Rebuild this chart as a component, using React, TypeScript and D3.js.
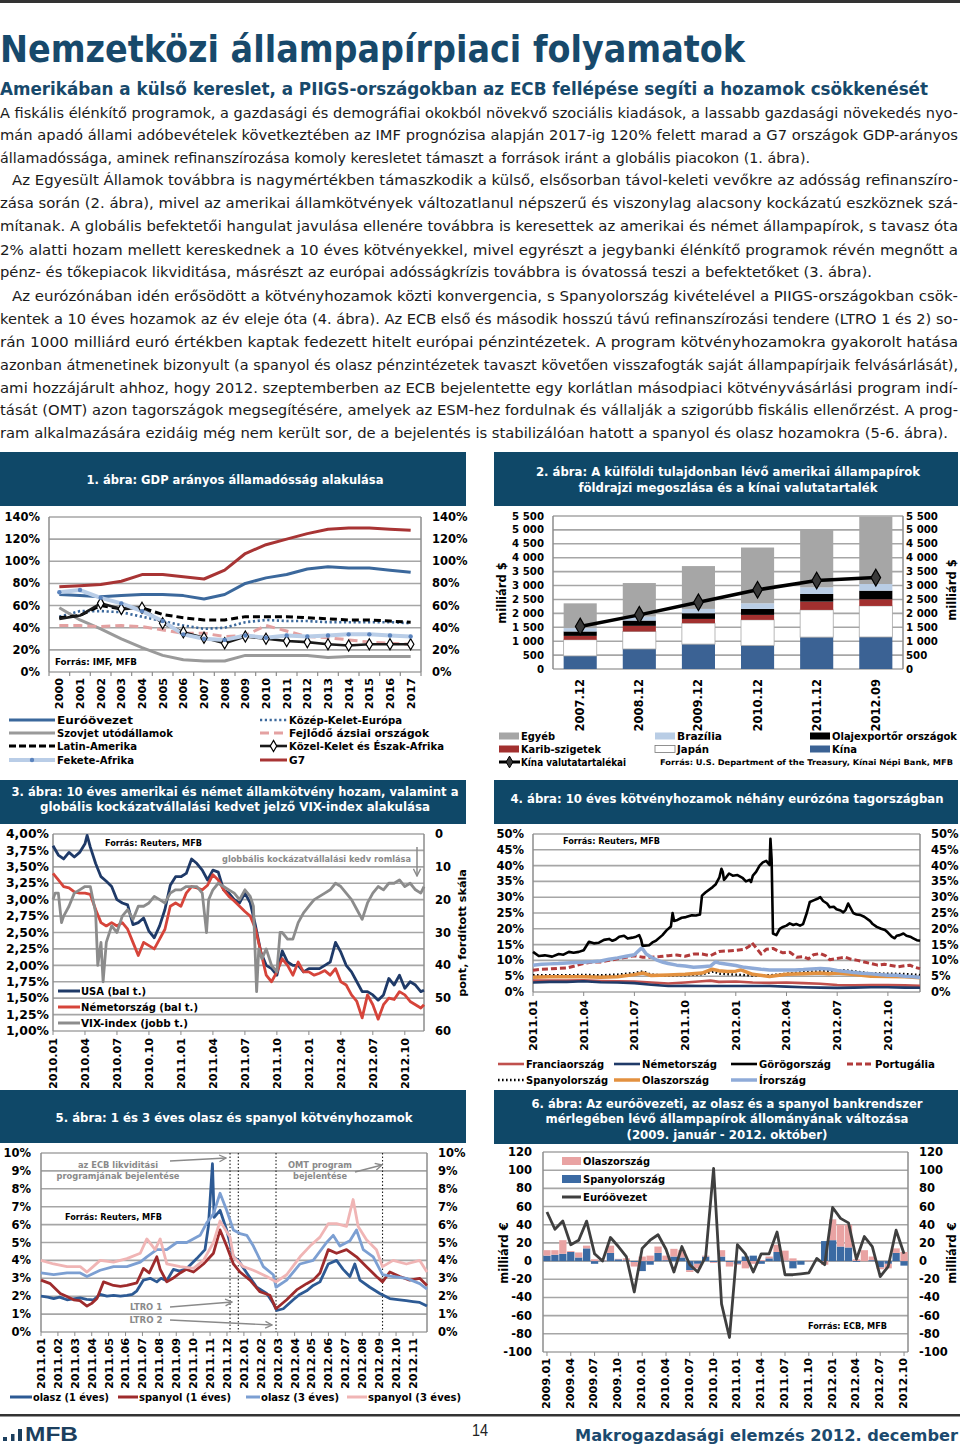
import React from 'react';
import * as d3 from 'd3';

const F = '"DejaVu Sans", Verdana, sans-serif';
const HDR = '#0f4868';
const TITLE = '#17496b';
const GRID = '#a6a6a6';
const AXIS = '#8c8c8c';

// ---------------- page text ----------------
const titleText = 'Nemzetközi állampapírpiaci folyamatok';
const subtitleText = 'Amerikában a külső kereslet, a PIIGS-országokban az ECB fellépése segíti a hozamok csökkenését';
const bodyLines = [
  'A fiskális élénkítő programok, a gazdasági és demográfiai okokból növekvő szociális kiadások, a lassabb gazdasági növekedés nyo-',
  'mán apadó állami adóbevételek következtében az IMF prognózisa alapján 2017-ig 120% felett marad a G7 országok GDP-arányos',
  'államadóssága, aminek refinanszírozása komoly keresletet támaszt a források iránt a globális piacokon (1. ábra).',
  'Az Egyesült Államok továbbra is nagymértékben támaszkodik a külső, elsősorban távol-keleti vevőkre az adósság refinanszíro-',
  'zása során (2. ábra), mivel az amerikai államkötvények változatlanul népszerű és viszonylag alacsony kockázatú eszköznek szá-',
  'mítanak. A globális befektetői hangulat javulása ellenére továbbra is keresettek az amerikai és német állampapírok, s tavasz óta',
  '2% alatti hozam mellett kereskednek a 10 éves kötvényekkel, mivel egyrészt a jegybanki élénkítő programok révén megnőtt a',
  'pénz- és tőkepiacok likviditása, másrészt az európai adósságkrízis továbbra is óvatossá teszi a befektetőket (3. ábra).',
  'Az eurózónában idén erősödött a kötvényhozamok közti konvergencia, s Spanyolország kivételével a PIIGS-országokban csök-',
  'kentek a 10 éves hozamok az év eleje óta (4. ábra). Az ECB első és második hosszú távú refinanszírozási tendere (LTRO 1 és 2) so-',
  'rán 1000 milliárd euró értékben kaptak fedezett hitelt európai pénzintézetek. A program kötvényhozamokra gyakorolt hatása',
  'azonban átmenetinek bizonyult (a spanyol és olasz pénzintézetek tavaszt követően visszafogták saját állampapírjaik felvásárlását),',
  'ami hozzájárult ahhoz, hogy 2012. szeptemberben az ECB bejelentette egy korlátlan másodpiaci kötvényvásárlási program indí-',
  'tását (OMT) azon tagországok megsegítésére, amelyek az ESM-hez fordulnak és vállalják a szigorúbb fiskális ellenőrzést. A prog-',
  'ram alkalmazására ezidáig még nem került sor, de a bejelentés is stabilizálóan hatott a spanyol és olasz hozamokra (5-6. ábra).',
];
const bodyBaselines = [118, 140, 163, 185, 208, 231, 255, 277, 301, 324, 347, 370, 393, 415, 438];
const bodyX = [0, 0, 0, 12, 0, 0, 0, 0, 12, 0, 0, 0, 0, 0, 0];
const bodyEnd = [958, 958, 810, 958, 958, 958, 958, 872, 958, 958, 958, 958, 958, 958, 948];

// ---------------- chart 1 data ----------------
const years1 = ['2000','2001','2002','2003','2004','2005','2006','2007','2008','2009','2010','2011','2012','2013','2014','2015','2016','2017'];
const euro1 = [70,69,68,69,70,70,69,66,70,80,85,88,93,95,94,94,92,90];
const cee1 = [50,55,55,54,50,46,42,39,40,45,47,46,46,45,45,45,45,44];
const cis1 = [58,47,39,30,22,15,11,10,10,15,15,15,15,13,14,14,14,14];
const asia1 = [42,42,41,42,41,38,35,35,32,33,42,37,32,31,29,27,26,25];
const latam1 = [49,51,60,57,58,52,49,47,47,50,50,50,49,48,47,47,46,45];
const mena1 = [48,51,62,57,58,44,36,31,26,32,30,28,27,25,24,25,25,25];
const ssa1 = [72,74,67,62,55,46,34,30,29,33,31,33,32,33,34,34,33,32];
const g71 = [77,78,79,82,88,88,86,84,92,107,115,120,125,129,130,130,129,128];

// ---------------- chart 2 data ----------------
const periods2 = ['2007.12','2008.12','2009.12','2010.12','2011.12','2012.09'];
const china2 = [470, 720, 895, 850, 1146, 1150];
const japan2 = [580, 628, 752, 916, 978, 1117];
const carib2 = [140, 203, 153, 179, 298, 239];
const oil2 = [160, 191, 205, 215, 275, 310];
const brazil2 = [120, 143, 155, 203, 238, 239];
const other2 = [890, 1205, 1540, 2004, 2089, 2425];
const reserves2 = [1528, 1946, 2399, 2847, 3181, 3285];

// ---------------- chart 3 data (months since 2010.01) ----------------
const ticks3 = ['2010.01','2010.04','2010.07','2010.10','2011.01','2011.04','2011.07','2011.10','2012.01','2012.04','2012.07','2012.10'];
const usa3 = [[0,3.82],[0.5,3.68],[1,3.62],[1.5,3.72],[2,3.65],[2.5,3.72],[3,3.85],[3.2,3.98],[3.5,3.8],[4,3.55],[4.5,3.35],[5,3.28],[5.5,3.2],[6,3.0],[6.5,2.95],[7,2.92],[7.5,2.62],[8,2.65],[8.5,2.72],[9,2.52],[9.5,2.42],[10,2.6],[10.5,2.85],[11,3.22],[11.5,3.35],[12,3.35],[12.5,3.4],[13,3.62],[13.5,3.55],[14,3.45],[14.5,3.3],[15,3.45],[15.5,3.42],[16,3.15],[16.5,3.1],[17,3.0],[17.5,2.95],[18,3.1],[18.5,2.95],[19,2.6],[19.5,2.2],[20,2.0],[20.5,1.95],[21,1.85],[21.5,2.22],[22,2.05],[22.5,2.0],[23,2.0],[23.5,1.9],[24,1.95],[24.5,1.95],[25,1.95],[25.5,2.0],[26,2.05],[26.5,2.35],[27,2.2],[27.5,2.0],[28,1.9],[28.5,1.75],[29,1.6],[29.5,1.6],[30,1.55],[30.5,1.47],[31,1.55],[31.5,1.8],[32,1.7],[32.5,1.85],[33,1.65],[33.5,1.75],[34,1.7],[34.5,1.6],[34.8,1.62]];
const de3 = [[0,3.4],[0.5,3.3],[1,3.2],[1.5,3.18],[2,3.12],[2.5,3.1],[3,3.1],[3.5,3.08],[4,2.85],[4.5,2.65],[5,2.6],[5.5,2.65],[6,2.6],[6.5,2.65],[7,2.55],[7.5,2.35],[8,2.15],[8.5,2.35],[9,2.3],[9.5,2.25],[10,2.4],[10.5,2.55],[11,2.9],[11.5,2.95],[12,2.9],[12.5,3.1],[13,3.2],[13.5,3.18],[14,3.15],[14.5,3.22],[15,3.38],[15.5,3.3],[16,3.15],[16.5,3.05],[17,2.98],[17.5,2.9],[18,2.82],[18.5,2.75],[19,2.55],[19.5,2.2],[20,1.85],[20.5,1.75],[21,1.9],[21.5,2.1],[22,2.0],[22.5,1.85],[23,2.05],[23.5,1.9],[24,1.9],[24.5,1.85],[25,1.88],[25.5,1.92],[26,1.85],[26.5,1.95],[27,1.75],[27.5,1.7],[28,1.55],[28.5,1.45],[29,1.2],[29.5,1.55],[30,1.4],[30.5,1.18],[31,1.4],[31.5,1.5],[32,1.48],[32.5,1.6],[33,1.55],[33.5,1.45],[34,1.4],[34.5,1.35],[34.8,1.4]];
const vix3 = [[0,20],[0.2,18],[0.5,18],[0.8,27],[1,25],[1.5,22],[2,18],[2.5,17],[3,16],[3.5,16],[4,24],[4.2,40],[4.5,33],[4.7,45],[5,33],[5.5,28],[6,30],[6.5,25],[7,23],[7.5,26],[8,22],[8.5,22],[9,21],[9.5,19],[10,20],[10.5,21],[11,18],[11.5,17],[12,17],[12.5,16],[13,16],[13.5,16],[14,18],[14.4,30],[14.6,20],[15,17],[15.5,15],[16,16],[16.5,17],[17,18],[17.5,20],[18,17],[18.5,19],[18.8,22],[19.1,48],[19.3,35],[19.6,38],[20,35],[20.5,40],[21,42],[21.3,30],[21.5,30],[22,32],[22.5,32],[23,27],[23.5,24],[24,22],[24.5,20],[25,19],[25.5,18],[26,17],[26.5,15],[27,16],[27.5,18],[28,20],[28.5,23],[29,26],[29.5,21],[30,18],[30.5,16],[31,17],[31.5,15],[32,15],[32.5,14],[33,16],[33.5,15],[34,17],[34.5,18],[34.8,16]];

// ---------------- chart 4 data (months since 2011.01) ----------------
const ticks4 = ['2011.01','2011.04','2011.07','2011.10','2012.01','2012.04','2012.07','2012.10'];
const fr4 = [[0,3.6],[1,3.6],[2,3.6],[3,3.7],[4,3.5],[5,3.4],[6,3.3],[7,3.0],[8,2.7],[9,3.0],[10,3.4],[10.5,3.6],[11,3.2],[12,3.3],[13,3.0],[14,2.9],[15,3.0],[16,2.8],[17,2.6],[18,2.2],[19,2.1],[20,2.2],[21,2.2],[22,2.1],[22.9,2.0]];
const de4 = [[0,3.0],[1,3.2],[2,3.2],[3,3.4],[4,3.1],[5,3.0],[6,2.8],[7,2.3],[8,1.9],[9,2.0],[10,1.9],[11,1.9],[12,1.9],[13,1.9],[14,1.9],[15,1.7],[16,1.5],[17,1.4],[18,1.3],[19,1.4],[20,1.5],[21,1.5],[22,1.4],[22.9,1.35]];
const gr4 = [[0,12.7],[0.34,11.4],[0.7,11.6],[1.13,11.2],[1.52,12.0],[1.8,11.8],[2.12,12.7],[2.4,12.4],[2.71,12.7],[3.0,13.2],[3.31,15.9],[3.6,15.4],[3.9,15.6],[4.2,16.5],[4.5,16.8],[4.7,16.2],[4.89,16.6],[5.1,17.5],[5.39,17.8],[5.6,16.9],[5.88,17.2],[6.1,17.5],[6.28,18.0],[6.4,16.5],[6.48,14.6],[6.87,14.8],[7.1,15.8],[7.27,16.2],[7.66,18.0],[7.9,19.5],[8.16,20.7],[8.26,25.0],[8.35,22.5],[8.55,22.8],[8.8,23.5],[9.05,23.7],[9.4,24.3],[9.64,24.2],[9.88,24.5],[10.0,30.5],[10.2,31.5],[10.63,33.2],[10.8,34.0],[11.03,36.3],[11.15,39.0],[11.23,38.0],[11.3,35.5],[11.43,36.3],[11.6,37.5],[11.82,36.8],[12.1,37.0],[12.42,36.0],[12.6,35.0],[12.81,35.5],[12.9,34.8],[13.01,36.8],[13.2,38.0],[13.41,40.0],[13.6,41.0],[13.8,41.5],[14.0,40.2],[14.05,48.5],[14.12,42.0],[14.2,18.5],[14.4,18.0],[14.6,20.0],[14.79,20.6],[15.0,21.0],[15.19,21.7],[15.4,21.2],[15.58,21.5],[15.8,21.0],[15.98,21.5],[16.2,25.0],[16.38,28.5],[16.6,29.0],[16.87,29.6],[17.0,30.0],[17.17,28.8],[17.4,28.0],[17.56,26.8],[17.8,27.0],[17.96,26.2],[18.2,25.8],[18.36,25.2],[18.5,26.0],[18.65,28.0],[18.8,26.5],[18.95,25.0],[19.15,24.5],[19.35,24.4],[19.6,23.8],[19.94,22.5],[20.1,21.5],[20.34,20.6],[20.6,20.0],[20.83,19.6],[21.0,18.8],[21.23,17.5],[21.4,17.0],[21.52,17.8],[21.7,18.0],[21.92,18.5],[22.1,17.8],[22.32,17.5],[22.5,17.0],[22.71,16.4],[22.9,16.2]];
const pt4 = [[0,6.9],[0.5,7.2],[1.0,7.3],[1.5,7.5],[2.0,7.6],[2.5,8.3],[3.0,9.0],[3.5,9.5],[4.0,9.5],[4.5,10.0],[5.0,10.5],[5.5,11.0],[6.0,11.5],[6.5,11.0],[7.0,11.0],[7.5,11.2],[8.0,11.5],[8.5,11.7],[9.0,11.3],[9.5,12.0],[10.0,12.0],[10.5,11.5],[11.0,12.8],[11.5,13.0],[12.0,13.2],[12.5,13.5],[12.8,14.5],[12.95,15.6],[13.2,14.0],[13.5,12.0],[13.8,13.5],[14.2,13.8],[14.5,13.0],[14.79,12.4],[15.2,12.6],[15.6,11.0],[15.98,11.2],[16.3,10.5],[16.6,11.8],[17.0,12.2],[17.3,11.5],[17.56,10.2],[17.9,10.5],[18.2,10.8],[18.5,11.0],[18.8,10.4],[19.2,10.0],[19.6,9.5],[20.0,9.0],[20.4,8.5],[20.8,8.8],[21.2,8.4],[21.6,8.0],[22.0,8.3],[22.3,8.5],[22.6,7.8],[22.9,7.4]];
const es4 = [[0,5.3],[1,5.3],[2,5.3],[3,5.4],[4,5.3],[5,5.5],[6,6.0],[6.5,6.5],[7,5.5],[8,5.2],[9,5.3],[10,5.6],[10.7,6.5],[11,5.8],[12,5.5],[13,5.2],[14,5.3],[15,5.8],[16,6.3],[17,6.6],[18,6.8],[18.5,6.9],[19,6.5],[20,5.9],[21,5.8],[22,5.7],[22.9,5.4]];
const it4 = [[0,4.7],[1,4.8],[2,4.8],[3,4.8],[4,4.7],[5,4.8],[6,5.5],[6.5,6.0],[7,5.2],[8,5.4],[9,5.6],[10,6.0],[10.6,7.2],[11,6.7],[11.5,6.5],[12,6.6],[12.3,7.0],[13,5.6],[14,4.9],[15,5.6],[16,5.8],[17,6.0],[17.5,5.8],[18,6.0],[19,5.5],[20,5.0],[21,4.9],[22,4.8],[22.9,4.5]];
const ie4 = [[0,8.5],[0.5,8.8],[1.0,8.9],[1.5,9.0],[2.0,9.2],[2.5,9.3],[3.0,9.4],[3.5,9.6],[4.0,9.8],[4.5,10.4],[5.0,10.8],[5.5,11.3],[6.0,11.8],[6.2,12.8],[6.4,13.8],[6.5,13.5],[6.7,12.0],[7.0,11.0],[7.3,10.2],[7.7,9.4],[8.0,9.0],[8.5,8.5],[9.0,8.2],[9.5,7.8],[10.0,8.0],[10.5,8.2],[10.8,9.5],[11.0,9.2],[11.5,8.8],[12.0,8.4],[12.5,7.8],[13.0,7.5],[13.5,7.2],[14.0,7.0],[14.5,7.0],[15.0,7.0],[15.5,7.0],[16.0,7.1],[16.5,7.3],[17.0,7.4],[17.5,7.3],[18.0,6.8],[18.5,6.5],[19.0,6.2],[19.5,5.9],[20.0,5.8],[20.5,5.5],[21.0,5.3],[21.5,5.3],[22.0,5.0],[22.5,4.8],[22.9,4.6]];

// ---------------- chart 5 data (months since 2011.01) ----------------
const ticks5 = ['2011.01','2011.02','2011.03','2011.04','2011.05','2011.06','2011.07','2011.08','2011.09','2011.10','2011.11','2011.12','2012.01','2012.02','2012.03','2012.04','2012.05','2012.06','2012.07','2012.08','2012.09','2012.10','2012.11'];
const eventLines5 = [11.18, 11.67, 13.9, 20.2];
const it1y5 = [[0,2.0],[0.4,1.95],[0.75,1.87],[1.1,1.95],[1.54,1.8],[1.9,1.85],[2.32,1.9],[2.7,1.82],[3.11,1.8],[3.5,2.1],[3.9,2.0],[4.29,2.05],[4.7,2.0],[5.08,2.05],[5.4,2.1],[5.67,2.3],[6.06,2.9],[6.46,3.0],[6.85,2.8],[7.1,3.0],[7.44,2.86],[7.83,3.5],[8.2,3.4],[8.62,3.55],[9.21,4.1],[9.7,4.6],[9.9,5.9],[10.14,9.4],[10.24,6.4],[10.59,6.8],[10.98,5.7],[11.38,4.2],[11.67,4.0],[12.17,3.3],[12.76,2.5],[13.35,2.15],[13.74,1.6],[13.94,1.2],[14.33,1.3],[14.92,1.8],[15.3,2.1],[15.71,2.3],[16.1,2.6],[16.5,2.8],[16.99,3.8],[17.48,4.0],[17.87,3.5],[18.27,3.1],[18.56,3.8],[18.86,2.9],[19.45,2.5],[20.04,2.15],[20.63,1.87],[21.22,1.8],[21.6,1.75],[22.0,1.7],[22.4,1.65],[22.83,1.45]];
const es1y5 = [[0,2.9],[0.55,2.7],[1.14,2.15],[1.5,2.0],[1.93,1.8],[2.3,1.75],[2.72,1.45],[3.0,1.6],[3.31,1.87],[3.7,2.8],[4.29,2.6],[4.7,2.55],[5.08,2.6],[5.67,2.75],[6.06,3.55],[6.4,3.3],[6.85,4.2],[7.05,3.5],[7.44,2.8],[7.8,3.0],[8.23,3.3],[8.6,3.5],[9.02,3.35],[9.61,3.8],[10.2,4.4],[10.59,5.7],[10.98,4.8],[11.38,3.8],[11.77,3.35],[12.36,2.9],[12.95,2.25],[13.54,2.05],[13.9,1.3],[14.53,1.8],[15.12,2.35],[15.71,2.7],[16.1,2.9],[16.5,3.3],[16.99,4.6],[17.48,4.4],[18.07,4.6],[18.66,4.2],[19.25,3.65],[19.84,3.1],[20.2,2.8],[20.63,3.35],[21.22,3.1],[21.81,2.9],[22.4,3.0],[22.83,2.6]];
const it3y5 = [[0,3.3],[0.75,3.2],[1.54,3.3],[2.32,3.3],[2.72,3.1],[3.5,3.45],[4.29,3.65],[5.08,3.65],[5.87,3.9],[6.26,4.2],[6.85,4.6],[7.44,4.6],[8.03,5.0],[8.62,5.0],[9.41,5.4],[9.8,6.1],[10.2,6.6],[10.59,7.75],[10.98,6.8],[11.38,5.7],[11.77,5.5],[12.17,5.4],[12.56,4.8],[13.15,3.65],[13.74,3.2],[13.9,2.5],[14.53,2.9],[15.32,3.8],[16.1,4.0],[16.89,5.0],[17.28,5.4],[17.68,4.8],[18.27,5.1],[18.66,5.7],[19.06,4.6],[19.65,4.2],[20.2,3.2],[20.83,3.1],[21.61,3.0],[22.4,2.7],[22.83,2.4]];
const es3y5 = [[0,4.0],[0.75,3.8],[1.54,3.65],[2.32,3.65],[2.72,3.35],[3.5,4.0],[4.29,3.9],[5.08,4.1],[5.87,4.4],[6.26,5.2],[6.75,4.6],[7.05,5.2],[7.44,3.8],[8.23,3.65],[9.02,3.55],[9.61,4.0],[10.2,5.0],[10.59,6.2],[11.18,5.3],[11.38,4.2],[11.97,3.65],[12.56,3.45],[13.35,3.1],[13.9,2.8],[14.53,3.2],[15.32,4.2],[15.91,4.8],[16.5,5.3],[16.99,6.05],[17.48,6.05],[18.07,5.9],[18.46,7.4],[18.76,5.9],[19.25,5.15],[19.84,4.6],[20.2,3.65],[20.83,4.0],[21.61,3.8],[22.4,4.0],[22.83,3.35]];

// ---------------- chart 6 data ----------------
const months6 = ['2009.01','2009.02','2009.03','2009.04','2009.05','2009.06','2009.07','2009.08','2009.09','2009.10','2009.11','2009.12','2010.01','2010.02','2010.03','2010.04','2010.05','2010.06','2010.07','2010.08','2010.09','2010.10','2010.11','2010.12','2011.01','2011.02','2011.03','2011.04','2011.05','2011.06','2011.07','2011.08','2011.09','2011.10','2011.11','2011.12','2012.01','2012.02','2012.03','2012.04','2012.05','2012.06','2012.07','2012.08','2012.09','2012.10'];
const spain6 = [6,7,8,10,4,14,-3,0.5,9,2,1,-1,-11,-4,9,1,5,4,-10,-3,5,-1,5,-1,-3,5,6,-3,3,10,0.5,-8,-4,0,0,22,23,16,15,-1,0,1,-7,-3,9,-5];
const italy6 = [6,5,15,1,5.5,3,2,0.5,8,0.5,2,-5,5,6,7,5,8.5,8,-2,-5,1,-1,7,-5,-1,-8,-3,1,2,8,11,3,0,0.5,0,-4,23,24,25,2,12,4,-2,-5,5,10];
const euro6 = [54,35,44,18,23,44,8,0,26,16,5,-34,14,23,29,13,-12,16,-4,-12,5,102,-47,-84,18,8,-12,8,8,32,-15,-15,-14,-13,3,-4,59,47,42,2,27,16,-17,-6,34,8];

// ---------------- helpers ----------------
const loc = d3.formatLocale({ decimal: ',', thousands: '\u00a0', grouping: [3], currency: ['', ''] });
const fmtK = loc.format(',d');
const fmt2 = loc.format('.2f');

function Txt(p: any) {
  const { x, y, children, size = 11.5, anchor = 'start', fill = '#000', w, bold = true, rot, dy = '0.35em' } = p;
  const extra: any = {};
  if (w) { extra.textLength = w; extra.lengthAdjust = 'spacingAndGlyphs'; }
  if (rot) {
    return <text transform={`translate(${x},${y}) rotate(${rot})`} textAnchor={anchor} dy={dy} fontSize={size} fontFamily={F} fontWeight={bold ? 'bold' : 'normal'} fill={fill} {...extra}>{children}</text>;
  }
  return <text x={x} y={y} dy={dy} textAnchor={anchor} fontSize={size} fontFamily={F} fontWeight={bold ? 'bold' : 'normal'} fill={fill} {...extra}>{children}</text>;
}

function Header(p: any) {
  const { x, y, w, h, lines } = p;
  return (
    <g>
      <rect x={x} y={y} width={w} height={h} fill={HDR} />
      {lines.map((l: any, i: number) => (
        <Txt key={i} x={l.cx} y={l.cy} anchor="middle" fill="#fff" size={12} w={l.w}>{l.t}</Txt>
      ))}
    </g>
  );
}

function Frame(p: any) {
  const { x0, x1, yTop, yBot, ys, ticks } = p;
  return (
    <g>
      {ticks.map((t: number, i: number) => (
        <line key={i} x1={x0} x2={x1} y1={ys(t)} y2={ys(t)} stroke={GRID} strokeWidth={1.6} />
      ))}
      <line x1={x0} x2={x0} y1={yTop} y2={yBot} stroke={AXIS} strokeWidth={1.5} />
      <line x1={x1} x2={x1} y1={yTop} y2={yBot} stroke={AXIS} strokeWidth={1.5} />
    </g>
  );
}

const diamond = d3.symbol().type(d3.symbolDiamond);

// ---------------- chart 1 ----------------
function Chart1() {
  const x0 = 49, x1 = 421, yTop = 517, yBot = 672;
  const x = d3.scalePoint<string>().domain(years1).range([x0, x1]).padding(0.5);
  const y = d3.scaleLinear().domain([0, 140]).range([yBot, yTop]);
  const ticks = d3.range(0, 141, 20);
  const ln = d3.line<number>().x((_, i) => x(years1[i]) as number).y(d => y(d));
  const step = x.step();
  const series = [
    { d: euro1, c: '#3b689c', w: 3 },
    { d: cee1, c: '#3b689c', w: 2.6, dash: '2.2,2.6' },
    { d: cis1, c: '#9a9a9a', w: 3 },
    { d: asia1, c: '#e4a1a1', w: 3, dash: '9,5' },
    { d: latam1, c: '#000', w: 3, dash: '7,4' },
    { d: mena1, c: '#1a1a1a', w: 2.6 },
    { d: ssa1, c: '#b9cde7', w: 4 },
    { d: g71, c: '#a83434', w: 3 },
  ];
  const legL = [
    { t: 'Euróövezet', c: '#3b689c', w: 3, tw: 76 },
    { t: 'Szovjet utódállamok', c: '#9a9a9a', w: 3, tw: 116 },
    { t: 'Latin-Amerika', c: '#000', w: 3, dash: '7,3', tw: 80 },
    { t: 'Fekete-Afrika', c: '#b9cde7', w: 4, dot: true, tw: 77 },
  ];
  const legR = [
    { t: 'Közép-Kelet-Európa', c: '#3b689c', w: 2.6, dash: '2.2,2.6', tw: 113 },
    { t: 'Fejlődő ázsiai országok', c: '#e4a1a1', w: 3, dash: '9,5', tw: 140 },
    { t: 'Közel-Kelet és Észak-Afrika', c: '#1a1a1a', w: 2.6, diam: true, tw: 155 },
    { t: 'G7', c: '#a83434', w: 3, tw: 16 },
  ];
  const rows = [720, 733, 746, 760];
  const legItem = (it: any, lx0: number, lx1: number, ty: number, k: string) => (
    <g key={k}>
      <line x1={lx0} x2={lx1} y1={ty} y2={ty} stroke={it.c} strokeWidth={it.w} strokeDasharray={it.dash} />
      {it.dot && <circle cx={(lx0 + lx1) / 2} cy={ty} r={2.2} fill="#5b84be" />}
      {it.diam && <path d={diamond.size(36)() as string} transform={`translate(${(lx0 + lx1) / 2},${ty})`} fill="#fff" stroke="#000" strokeWidth={1.2} />}
      <Txt x={lx1 + 2} y={ty} size={10.8} w={it.tw}>{it.t}</Txt>
    </g>
  );
  return (
    <g>
      <Header x={0} y={452} w={466} h={54} lines={[{ t: '1. ábra: GDP arányos államadósság alakulása', cx: 235, cy: 480, w: 297 }]} />
      <Frame x0={x0} x1={x1} yTop={yTop} yBot={yBot} ys={y} ticks={ticks} />
      {d3.range(years1.length + 1).map(i => (
        <line key={i} x1={x0 + i * step} x2={x0 + i * step} y1={yBot} y2={yBot + 4} stroke={AXIS} strokeWidth={1.2} />
      ))}
      {ticks.map(t => (
        <g key={t}>
          <Txt x={40} y={y(t)} anchor="end">{t + '%'}</Txt>
          <Txt x={432} y={y(t)}>{t + '%'}</Txt>
        </g>
      ))}
      {series.map((s, i) => (
        <path key={i} d={ln(s.d) as string} fill="none" stroke={s.c} strokeWidth={s.w} strokeDasharray={s.dash} strokeLinejoin="round" />
      ))}
      {mena1.map((v, i) => i >= 2 && (
        <path key={i} d={diamond.size(36)() as string} transform={`translate(${x(years1[i])},${y(v)})`} fill="#fff" stroke="#000" strokeWidth={1.2} />
      ))}
      {ssa1.map((v, i) => (
        <circle key={i} cx={x(years1[i])} cy={y(v)} r={2.2} fill="#5b84be" />
      ))}
      {years1.map(yr => (
        <Txt key={yr} x={x(yr)} y={678} rot={-90} anchor="end" size={11.2}>{yr}</Txt>
      ))}
      <Txt x={55} y={662} size={9} w={82}>Forrás: IMF, MFB</Txt>
      {legL.map((it, i) => legItem(it, 9, 55, rows[i], 'l' + i))}
      {legR.map((it, i) => legItem(it, 260, 287, rows[i], 'r' + i))}
    </g>
  );
}

// ---------------- chart 2 ----------------
function Chart2() {
  const x0 = 553, x1 = 903, yTop = 516, yBot = 669;
  const x = d3.scaleBand<string>().domain(periods2).range([x0, x1]).paddingInner(0.44).paddingOuter(0.18);
  const y = d3.scaleLinear().domain([0, 5500]).range([yBot, yTop]);
  const ticks = d3.range(0, 5501, 500);
  const rows = periods2.map((p, i) => ({ p, china: china2[i], japan: japan2[i], carib: carib2[i], oil: oil2[i], brazil: brazil2[i], other: other2[i] }));
  const keys = ['china', 'japan', 'carib', 'oil', 'brazil', 'other'];
  const colors: any = { china: '#3b6294', japan: '#ffffff', carib: '#a2302f', oil: '#000000', brazil: '#b9cde5', other: '#a6a6a6' };
  const stack = d3.stack<any>().keys(keys)(rows);
  const cx = (p: string) => (x(p) as number) + x.bandwidth() / 2;
  const ln = d3.line<number>().x((_, i) => cx(periods2[i])).y(d => y(d));
  const sw = (sx: number, sy: number, c: string, t: string, tw: number, k: string, stroke?: string) => (
    <g key={k}>
      <rect x={sx} y={sy - 3.5} width={20} height={7} fill={c} stroke={stroke} strokeWidth={stroke ? 0.8 : 0} />
      <Txt x={sx + 22} y={sy} size={10.2} w={tw}>{t}</Txt>
    </g>
  );
  return (
    <g>
      <Header x={494} y={452} w={464} h={54} lines={[
        { t: '2. ábra: A külföldi tulajdonban lévő amerikai állampapírok', cx: 728, cy: 472, w: 384 },
        { t: 'földrajzi megoszlása és a kínai valutatartalék', cx: 728, cy: 488, w: 299 },
      ]} />
      <Frame x0={x0} x1={x1} yTop={yTop} yBot={yBot} ys={y} ticks={ticks} />
      {ticks.map(t => (
        <g key={t}>
          <Txt x={544} y={y(t)} anchor="end" size={10.2}>{fmtK(t)}</Txt>
          <Txt x={906} y={y(t)} size={10.2}>{fmtK(t)}</Txt>
        </g>
      ))}
      <Txt x={502} y={593} rot={-90} anchor="middle" size={11.5}>milliárd $</Txt>
      <Txt x={952} y={590} rot={-90} anchor="middle" size={11.5}>milliárd $</Txt>
      {stack.map(layer => layer.map((d: any, i: number) => (
        <rect key={layer.key + i} x={x(periods2[i])} width={x.bandwidth()} y={y(d[1])} height={y(d[0]) - y(d[1])}
          fill={colors[layer.key]} stroke={layer.key === 'japan' ? '#a6a6a6' : 'none'} strokeWidth={0.8} />
      )))}
      <path d={ln(reserves2) as string} fill="none" stroke="#000" strokeWidth={3.5} strokeLinejoin="round" />
      {reserves2.map((v, i) => (
        <path key={i} d={diamond.size(80)() as string} transform={`translate(${cx(periods2[i])},${y(v)})`} fill="#3a3a3a" stroke="#000" strokeWidth={1.2} />
      ))}
      {periods2.map(p => (
        <Txt key={p} x={cx(p)} y={679} rot={-90} anchor="end" size={11.5}>{p}</Txt>
      ))}
      {sw(499, 736, '#a6a6a6', 'Egyéb', 34, 'a')}
      {sw(655, 736, '#b9cde5', 'Brazília', 45, 'b')}
      {sw(810, 736, '#000', 'Olajexportőr országok', 125, 'c')}
      {sw(499, 749, '#a2302f', 'Karib-szigetek', 80, 'd')}
      {sw(655, 749, '#fff', 'Japán', 32, 'e', '#777')}
      {sw(810, 749, '#3b6294', 'Kína', 25, 'f')}
      <line x1={499} x2={520} y1={762} y2={762} stroke="#000" strokeWidth={3} />
      <path d={diamond.size(40)() as string} transform="translate(509.5,762)" fill="#3a3a3a" stroke="#000" />
      <Txt x={521} y={762} size={10.2} w={105}>Kína valutatartalékai</Txt>
      <Txt x={660} y={762} size={7.8} w={293}>Forrás: U.S. Department of the Treasury, Kínai Népi Bank, MFB</Txt>
    </g>
  );
}

// ---------------- chart 3 ----------------
function Chart3() {
  const x0 = 53, x1 = 424, yTop = 834, yBot = 1031;
  const x = d3.scaleLinear().domain([0, 34.8]).range([x0, x1]);
  const y = d3.scaleLinear().domain([1, 4]).range([yBot, yTop]);
  const yr = d3.scaleLinear().domain([0, 60]).range([yTop, yBot]);
  const ticks = d3.range(1, 4.001, 0.25);
  const lnL = d3.line<number[]>().x(d => x(d[0])).y(d => y(d[1]));
  const lnR = d3.line<number[]>().x(d => x(d[0])).y(d => yr(d[1]));
  const leg = [
    { t: 'USA (bal t.)', c: '#1f3a68', y: 991, tw: 65 },
    { t: 'Németország (bal t.)', c: '#d6443a', y: 1007, tw: 117 },
    { t: 'VIX-index (jobb t.)', c: '#8c8c8c', y: 1023, tw: 107 },
  ];
  return (
    <g>
      <Header x={0} y={780} w={466} h={44} lines={[
        { t: '3. ábra: 10 éves amerikai és német államkötvény hozam, valamint a', cx: 235, cy: 792, w: 447 },
        { t: 'globális kockázatvállalási kedvet jelző VIX-index alakulása', cx: 235, cy: 807, w: 390 },
      ]} />
      <Frame x0={x0} x1={x1} yTop={yTop} yBot={yBot} ys={y} ticks={ticks} />
      {ticks.map(t => <Txt key={t} x={49} y={y(t)} anchor="end" size={12} w={43}>{fmt2(t) + '%'}</Txt>)}
      {d3.range(0, 61, 10).map(t => <Txt key={t} x={435} y={yr(t)} size={11.5}>{t}</Txt>)}
      <Txt x={462} y={933} rot={-90} anchor="middle" size={11.2}>pont, fordított skála</Txt>
      <path d={lnL(usa3) as string} fill="none" stroke="#1f3a68" strokeWidth={2.8} strokeLinejoin="round" />
      <path d={lnL(de3) as string} fill="none" stroke="#d6443a" strokeWidth={2.8} strokeLinejoin="round" />
      <path d={lnR(vix3) as string} fill="none" stroke="#8c8c8c" strokeWidth={2.8} strokeLinejoin="round" />
      {ticks3.map((t, i) => (
        <g key={t}>
          <line x1={x(i * 3)} x2={x(i * 3)} y1={yBot} y2={yBot + 4} stroke={AXIS} />
          <Txt x={x(i * 3)} y={1038} rot={-90} anchor="end" size={11.2}>{t}</Txt>
        </g>
      ))}
      <Txt x={105} y={843} size={9} w={97}>Forrás: Reuters, MFB</Txt>
      <Txt x={222} y={859} size={8} fill="#8a8a8a" w={189}>globbális kockázatvállalási kedv romlása</Txt>
      <line x1={417} x2={417} y1={847} y2={876} stroke="#8a8a8a" strokeWidth={1.5} markerEnd="url(#arrG)" />
      {leg.map(l => (
        <g key={l.t}>
          <line x1={58} x2={80} y1={l.y} y2={l.y} stroke={l.c} strokeWidth={3} />
          <Txt x={81} y={l.y} size={11.2} w={l.tw}>{l.t}</Txt>
        </g>
      ))}
    </g>
  );
}

// ---------------- chart 4 ----------------
function Chart4() {
  const x0 = 533, x1 = 920, yTop = 834, yBot = 992;
  const x = d3.scaleLinear().domain([0, 22.9]).range([x0, x1]);
  const y = d3.scaleLinear().domain([0, 50]).range([yBot, yTop]);
  const ticks = d3.range(0, 51, 5);
  const ln = d3.line<number[]>().x(d => x(d[0])).y(d => y(d[1]));
  const series = [
    { t: 'Franciaország', d: fr4, c: '#c0504d', w: 2.6, tw: 78 },
    { t: 'Németország', d: de4, c: '#1f3a68', w: 2.6, tw: 75 },
    { t: 'Görögország', d: gr4, c: '#000', w: 2.6, tw: 72 },
    { t: 'Portugália', d: pt4, c: '#b23b3b', w: 3, dash: '6,3', tw: 60 },
    { t: 'Spanyolország', d: es4, c: '#000', w: 2.4, dash: '1.6,2.4', tw: 82 },
    { t: 'Olaszország', d: it4, c: '#e3913f', w: 3.5, tw: 67 },
    { t: 'Írország', d: ie4, c: '#8fabd8', w: 3.5, tw: 47 },
  ];
  const legPos = [[498, 1064], [614, 1064], [731, 1064], [847, 1064], [498, 1080], [614, 1080], [731, 1080]];
  return (
    <g>
      <Header x={494} y={780} w={464} h={44} lines={[
        { t: '4. ábra: 10 éves kötvényhozamok néhány eurózóna tagországban', cx: 727, cy: 799, w: 433 },
      ]} />
      <Frame x0={x0} x1={x1} yTop={yTop} yBot={yBot} ys={y} ticks={ticks} />
      {ticks.map(t => (
        <g key={t}>
          <Txt x={524} y={y(t)} anchor="end" size={11.5}>{t + '%'}</Txt>
          <Txt x={931} y={y(t)} size={11.5}>{t + '%'}</Txt>
        </g>
      ))}
      {series.map(s => (
        <path key={s.t} d={ln(s.d) as string} fill="none" stroke={s.c} strokeWidth={s.w} strokeDasharray={s.dash} strokeLinejoin="round" />
      ))}
      {ticks4.map((t, i) => (
        <g key={t}>
          <line x1={x(i * 3)} x2={x(i * 3)} y1={yBot} y2={yBot + 4} stroke={AXIS} />
          <Txt x={x(i * 3)} y={1000} rot={-90} anchor="end" size={11.2}>{t}</Txt>
        </g>
      ))}
      <Txt x={563} y={841} size={9} w={97}>Forrás: Reuters, MFB</Txt>
      {series.map((s, i) => (
        <g key={'l' + s.t}>
          <line x1={legPos[i][0]} x2={legPos[i][0] + 26} y1={legPos[i][1]} y2={legPos[i][1]} stroke={s.c} strokeWidth={s.w} strokeDasharray={s.dash} />
          <Txt x={legPos[i][0] + 28} y={legPos[i][1]} size={11} w={s.tw}>{s.t}</Txt>
        </g>
      ))}
    </g>
  );
}

// ---------------- chart 5 ----------------
function Chart5() {
  const x0 = 41, x1 = 427, yTop = 1153, yBot = 1332;
  const x = d3.scaleLinear().domain([0, 22.83]).range([x0, x1]);
  const y = d3.scaleLinear().domain([0, 10]).range([yBot, yTop]);
  const ticks = d3.range(0, 11, 1);
  const ln = d3.line<number[]>().x(d => x(d[0])).y(d => y(d[1]));
  const series = [
    { t: 'olasz (1 éves)', d: it1y5, c: '#2d5a94', lx: 10, l2: 32, tw: 76 },
    { t: 'spanyol (1 éves)', d: es1y5, c: '#9e2b2c', lx: 118, l2: 138, tw: 92 },
    { t: 'olasz (3 éves)', d: it3y5, c: '#7c9fd2', lx: 246, l2: 260, tw: 78 },
    { t: 'spanyol (3 éves)', d: es3y5, c: '#f0b5b5', lx: 347, l2: 367, tw: 93 },
  ];
  const G = '#8a8a8a';
  return (
    <g>
      <Header x={0} y={1090} w={466} h={53} lines={[
        { t: '5. ábra: 1 és 3 éves olasz és spanyol kötvényhozamok', cx: 234, cy: 1118, w: 357 },
      ]} />
      <Frame x0={x0} x1={x1} yTop={yTop} yBot={yBot} ys={y} ticks={ticks} />
      {ticks.map(t => (
        <g key={t}>
          <Txt x={31} y={y(t)} anchor="end" size={11.5}>{t + '%'}</Txt>
          <Txt x={438} y={y(t)} size={11.5}>{t + '%'}</Txt>
        </g>
      ))}
      {eventLines5.map(m => (
        <line key={m} x1={x(m)} x2={x(m)} y1={yTop} y2={yBot} stroke="#222" strokeWidth={1.1} strokeDasharray="1.5,2" />
      ))}
      {series.map(s => (
        <path key={s.t} d={ln(s.d) as string} fill="none" stroke={s.c} strokeWidth={2.8} strokeLinejoin="round" />
      ))}
      {ticks5.map((t, i) => (
        <g key={t}>
          <line x1={x(i)} x2={x(i)} y1={yBot} y2={yBot + 4} stroke={AXIS} />
          <Txt x={x(i)} y={1338} rot={-90} anchor="end" size={11.2}>{t}</Txt>
        </g>
      ))}
      <Txt x={65} y={1217} size={9} w={97}>Forrás: Reuters, MFB</Txt>
      <Txt x={118} y={1165} anchor="middle" size={9.2} fill={G} w={80}>az ECB likviditási</Txt>
      <Txt x={118} y={1176} anchor="middle" size={9.2} fill={G} w={123}>programjának bejelentése</Txt>
      <line x1={170} y1={1161} x2={226} y2={1158} stroke={G} strokeWidth={1.4} markerEnd="url(#arrG)" />
      <Txt x={320} y={1165} anchor="middle" size={9.2} fill={G} w={64}>OMT program</Txt>
      <Txt x={320} y={1176} anchor="middle" size={9.2} fill={G} w={54}>bejelentése</Txt>
      <line x1={355} y1={1172} x2={382} y2={1165} stroke={G} strokeWidth={1.4} markerEnd="url(#arrG)" />
      <Txt x={146} y={1307} anchor="middle" size={9.2} fill={G} w={32}>LTRO 1</Txt>
      <line x1={170} y1={1307} x2={232} y2={1302} stroke={G} strokeWidth={1.4} markerEnd="url(#arrG)" />
      <Txt x={146} y={1320} anchor="middle" size={9.2} fill={G} w={33}>LTRO 2</Txt>
      <line x1={170} y1={1320} x2={272} y2={1325} stroke={G} strokeWidth={1.4} markerEnd="url(#arrG)" />
      {series.map(s => (
        <g key={'l' + s.t}>
          <line x1={s.lx} x2={s.l2} y1={1397} y2={1397} stroke={s.c} strokeWidth={3} />
          <Txt x={s.l2 + 1} y={1397} size={11} w={s.tw}>{s.t}</Txt>
        </g>
      ))}
    </g>
  );
}

// ---------------- chart 6 ----------------
function Chart6() {
  const x0 = 543, x1 = 908, yTop = 1152, yBot = 1352;
  const x = d3.scaleBand<string>().domain(months6).range([x0, x1]).paddingInner(0.08).paddingOuter(0.04);
  const y = d3.scaleLinear().domain([-100, 120]).range([yBot, yTop]);
  const ticks = d3.range(-100, 121, 20);
  const rows = months6.map((m, i) => ({ m, spain: spain6[i], italy: italy6[i] }));
  const stack = d3.stack<any>().keys(['spain', 'italy']).offset(d3.stackOffsetDiverging)(rows);
  const colors: any = { spain: '#3b6aa3', italy: '#e9a3a3' };
  const cx = (m: string) => (x(m) as number) + x.bandwidth() / 2;
  const ln = d3.line<number>().x((_, i) => cx(months6[i])).y(d => y(d));
  return (
    <g>
      <Header x={494} y={1090} w={464} h={54} lines={[
        { t: '6. ábra: Az euróövezeti, az olasz és a spanyol bankrendszer', cx: 727, cy: 1104, w: 391 },
        { t: 'mérlegében lévő állampapírok állományának változása', cx: 727, cy: 1119, w: 363 },
        { t: '(2009. január - 2012. október)', cx: 727, cy: 1135, w: 201 },
      ]} />
      <Frame x0={x0} x1={x1} yTop={yTop} yBot={yBot} ys={y} ticks={ticks} />
      {ticks.map(t => (
        <g key={t}>
          <Txt x={532} y={y(t)} anchor="end" size={11.5}>{String(t)}</Txt>
          <Txt x={919} y={y(t)} size={11.5}>{String(t)}</Txt>
        </g>
      ))}
      <Txt x={504} y={1253} rot={-90} anchor="middle" size={11.5}>milliárd €</Txt>
      <Txt x={952} y={1253} rot={-90} anchor="middle" size={11.5}>milliárd €</Txt>
      {stack.map(layer => layer.map((d: any, i: number) => (
        <rect key={layer.key + i} x={x(months6[i])} width={x.bandwidth()} y={y(Math.max(d[0], d[1]))}
          height={Math.abs(y(d[0]) - y(d[1]))} fill={colors[layer.key]} />
      )))}
      <path d={ln(euro6) as string} fill="none" stroke="#3f3f3f" strokeWidth={2.8} strokeLinejoin="round" />
      {months6.map((m, i) => i % 3 === 0 && (
        <g key={m}>
          <line x1={cx(m)} x2={cx(m)} y1={yBot} y2={yBot + 4} stroke={AXIS} />
          <Txt x={cx(m) - 1} y={1358} rot={-90} anchor="end" size={11.2}>{m}</Txt>
        </g>
      ))}
      <rect x={562} y={1157} width={19} height={8} fill="#e9a3a3" />
      <Txt x={583} y={1161} size={11} w={67}>Olaszország</Txt>
      <rect x={562} y={1175} width={19} height={8} fill="#3b6aa3" />
      <Txt x={583} y={1179} size={11} w={82}>Spanyolország</Txt>
      <line x1={562} x2={581} y1={1197} y2={1197} stroke="#3f3f3f" strokeWidth={3} />
      <Txt x={583} y={1197} size={11} w={64}>Euróövezet</Txt>
      <Txt x={808} y={1326} size={9} w={79}>Forrás: ECB, MFB</Txt>
    </g>
  );
}

export default function App() {
  return (
    <svg width={960} height={1450} style={{ position: 'absolute', left: 0, top: 0, display: 'block' }}>
      <defs>
        <marker id="arrG" viewBox="0 0 10 10" refX="9" refY="5" markerWidth="6" markerHeight="6" orient="auto">
          <path d="M1,1 L9,5 L1,9" fill="none" stroke="#8a8a8a" strokeWidth="1.6" />
        </marker>
      </defs>
      <rect x={0} y={0} width={960} height={1450} fill="#fff" />
      <rect x={0} y={0} width={960} height={3} fill="#333" />
      <text x={0} y={62} fontFamily={F} fontWeight="bold" fontSize={38} fill={TITLE} textLength={745} lengthAdjust="spacingAndGlyphs">{titleText}</text>
      <text x={0} y={95} fontFamily={F} fontWeight="bold" fontSize={17} fill={TITLE} textLength={928} lengthAdjust="spacingAndGlyphs">{subtitleText}</text>
      {bodyLines.map((l, i) => (
        <text key={i} x={bodyX[i]} y={bodyBaselines[i]} fontFamily={F} fontSize={14.5} fill="#1a1a1a" textLength={bodyEnd[i] - bodyX[i]} lengthAdjust="spacingAndGlyphs">{l}</text>
      ))}
      <Chart1 />
      <Chart2 />
      <Chart3 />
      <Chart4 />
      <Chart5 />
      <Chart6 />
      <rect x={0} y={1414} width={960} height={2.5} fill="#333" />
      <g fill="#1c3f5e">
        <rect x={3} y={1437} width={4} height={4} />
        <rect x={11} y={1434} width={3.5} height={7} />
        <rect x={18} y={1429} width={4} height={12} />
      </g>
      <text x={25} y={1441} fontFamily='"Liberation Sans", Arial, sans-serif' fontWeight="bold" fontSize={21} fill="#1c3f5e" textLength={53} lengthAdjust="spacingAndGlyphs">MFB</text>
      <text x={480} y={1436} textAnchor="middle" fontFamily='"Liberation Sans", Arial, sans-serif' fontSize={16} fill="#222" textLength={16} lengthAdjust="spacingAndGlyphs">14</text>
      <text x={958} y={1441} textAnchor="end" fontFamily={F} fontWeight="bold" fontSize={16} fill="#1c4a6e" textLength={383} lengthAdjust="spacingAndGlyphs">Makrogazdasági elemzés 2012. december</text>
    </svg>
  );
}
